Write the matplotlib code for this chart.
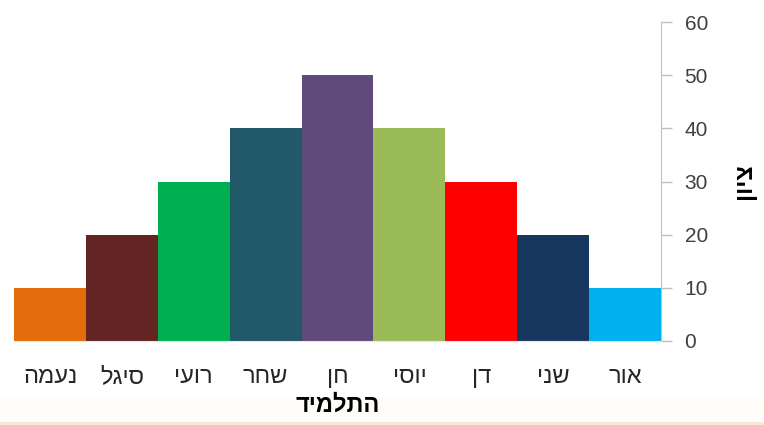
import matplotlib
matplotlib.use("Agg")
import matplotlib.pyplot as plt
from matplotlib.patches import Rectangle

# data (logical Hebrew order, first category drawn on the right)
students = ["אור", "שני", "דן", "יוסי", "חן", "שחר", "רועי", "סיגל", "נעמה"]
scores = [10, 20, 30, 40, 50, 40, 30, 20, 10]
colors = ["#00B0F0", "#17375E", "#FF0000", "#9BBB59", "#604A7B",
          "#215968", "#00B050", "#632523", "#E46C0A"]
yticks = [0, 10, 20, 30, 40, 50, 60]
x_title = "התלמיד"
y_title = "ציון"


def heb(s):
    # matplotlib has no bidi support, so flip the glyph order by hand
    return s[::-1]


plt.rcParams["font.family"] = ["Liberation Sans", "DejaVu Sans"]

fig = plt.figure(figsize=(7.64, 4.25), dpi=100)
fig.patch.set_facecolor("white")

# faint cream band + peach strip at the bottom of the screenshot
fig.patches.append(Rectangle((0, 0), 1, 28 / 425, transform=fig.transFigure,
                             facecolor="#FFFDF9", edgecolor="none", zorder=-2))
fig.patches.append(Rectangle((0, 0), 1, 3 / 425, transform=fig.transFigure,
                             facecolor="#FAE8D6", edgecolor="none", zorder=-1))

ax = fig.add_axes([14 / 764, (425 - 341) / 425, (661 - 14) / 764, (341 - 22) / 425])
ax.set_facecolor("none")

x = list(range(len(students)))
ax.bar(x, scores, width=1.0, color=colors, edgecolor="none")

ax.set_xlim(-0.5, len(students) - 0.5)
ax.invert_xaxis()
ax.set_ylim(0, 60)

ax.yaxis.tick_right()
ax.yaxis.set_label_position("right")
ax.set_yticks(yticks)
ax.tick_params(axis="y", colors="#BFBFBF", labelcolor="#404040",
               labelsize=15, length=8, width=1, pad=9, direction="out")

ax.set_xticks(x)
ax.set_xticklabels([heb(s) for s in students], fontsize=17, color="#262626")
ax.tick_params(axis="x", length=0, pad=18)

for side in ["top", "left"]:
    ax.spines[side].set_visible(False)
ax.spines["right"].set_color("#BFBFBF")
ax.spines["bottom"].set_color("#E6E6E6")

ax.set_xlabel(heb(x_title), fontsize=17, fontweight="bold", labelpad=4)
ax.set_ylabel(heb(y_title), fontsize=17, fontweight="bold", rotation=90, labelpad=18)

fig.savefig("out.png", dpi=100)
